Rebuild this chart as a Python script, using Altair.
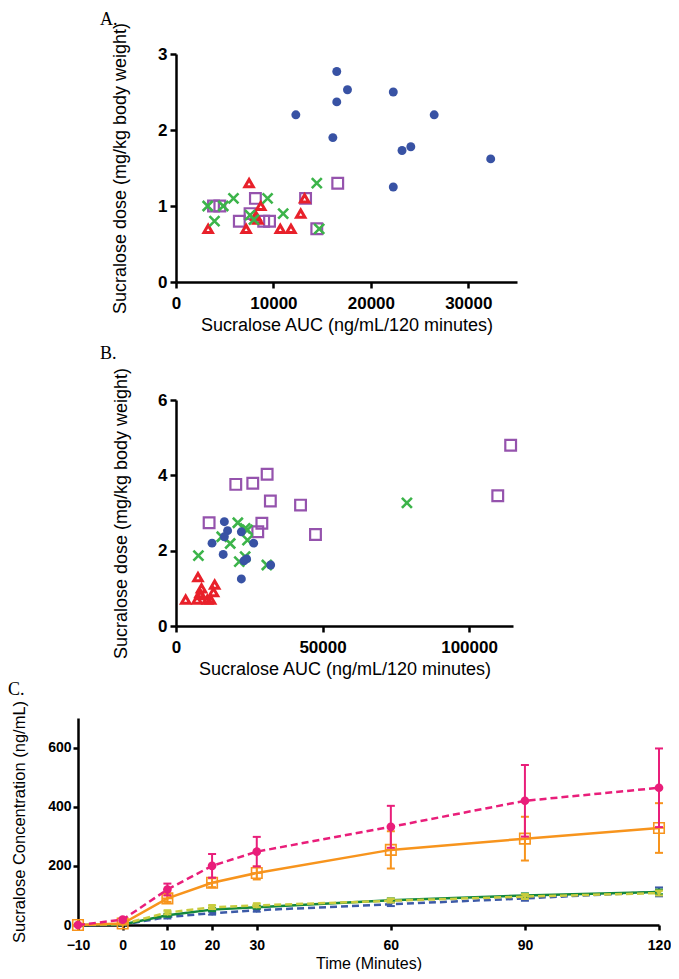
import altair as alt
import pandas as pd

# ---------------- Panel A / B data ----------------
# Blue filled circles (same in A and B)
blue_auc = [12300, 16500, 17600, 16500, 16100, 22300, 26500, 23200, 24100, 32300, 22300]
blue_dose = [2.2, 2.77, 2.53, 2.37, 1.9, 2.5, 2.2, 1.73, 1.78, 1.62, 1.25]
# Red open triangles (same in A and B)
red_auc = [3300, 7500, 7200, 8700, 8200, 10700, 11800, 12800, 13200, 8400]
red_dose = [0.7, 1.3, 0.7, 1.0, 0.87, 0.7, 0.7, 0.9, 1.1, 0.82]
# Panel A green crosses
a_green_auc = [3250, 3950, 4850, 5900, 9400, 7600, 8000, 11000, 14450, 14700]
a_green_dose = [1.0, 0.8, 1.0, 1.1, 1.1, 0.88, 0.82, 0.9, 1.3, 0.7]
# Panel A purple open squares
a_purple_auc = [3850, 4500, 8150, 6500, 7600, 9000, 9600, 13300, 14450, 16600]
a_purple_dose = [1.0, 1.0, 1.1, 0.8, 0.9, 0.8, 0.8, 1.1, 0.7, 1.3]
# Panel B green crosses
b_green_auc = [7650, 15600, 18500, 21100, 23600, 24400, 24400, 21600, 23600, 31000, 78800]
b_green_dose = [1.87, 2.37, 2.19, 2.74, 2.59, 2.55, 2.28, 1.71, 1.84, 1.62, 3.27]
# Panel B purple open squares
b_purple_auc = [11300, 20400, 26200, 31100, 32200, 42500, 47600, 29300, 27900, 114200, 109800]
b_purple_dose = [2.74, 3.76, 3.79, 4.03, 3.32, 3.21, 2.43, 2.73, 2.5, 4.8, 3.46]

# ---------------- Panel C data ----------------
times = [-10, 0, 10, 20, 30, 60, 90, 120]
pink_mean = [0, 18, 120, 200, 248, 332, 420, 464]
pink_sem = [3, 5, 20, 40, 50, 71, 121, 133]
orange_mean = [0, 5, 90, 143, 176, 254, 292, 328]
orange_sem = [2, 3, 12, 15, 22, 63, 74, 84]
green_mean = [0, 2, 33, 52, 60, 84, 100, 112]
green_sem = [1, 1, 5, 5, 5, 6, 7, 8]
yellow_mean = [0, 3, 42, 60, 66, 82, 96, 108]
yellow_sem = [1, 1, 6, 6, 6, 6, 8, 8]
bluec_mean = [0, 1, 27, 40, 50, 70, 90, 112]
bluec_sem = [1, 1, 5, 5, 5, 6, 8, 15]

FONT = "Liberation Sans"
SERIF = "Liberation Serif"

BLUE = "#3852a4"
RED = "#e8202a"
GREEN = "#3cb44a"
PURPLE = "#9553ad"
PINK = "#e91e7a"
ORANGE = "#f7941d"
CGREEN = "#13883d"
CYELLOW = "#c9cc3f"
CBLUE = "#3c5aa8"

XSHAPE = "M-1,-1L1,1M-1,1L1,-1"
SQCROSS = "M-1,-1L1,-1L1,1L-1,1Z M0,-1L0,1 M-1,0L1,0"
CAP = "M-1,0L1,0"


def frame(x1, x2, y1, y2):
    return alt.Chart(pd.DataFrame({"z": [0]})).mark_rule(opacity=0).encode(
        x=alt.value(x1), x2=alt.value(x2), y=alt.value(y1), y2=alt.value(y2))


def panel_label(txt, x, y):
    return alt.Chart(pd.DataFrame({"t": [txt]})).mark_text(
        font=SERIF, fontSize=18, align="left", baseline="alphabetic", color="black"
    ).encode(text="t:N", x=alt.value(x), y=alt.value(y))


def mk_axis(values, title, label_size, title_size, tick_size, label_pad,
            tx=None, ty=None, offset=None, fmt="d"):
    kw = dict(values=values, title=title, format=fmt, grid=False,
              tickSize=tick_size, tickWidth=2.5, tickColor="black",
              domainWidth=2.5, domainColor="black",
              labelFont=FONT, labelFontSize=label_size, labelFontWeight="bold",
              labelColor="black", labelPadding=label_pad, labelFlush=False,
              labelOverlap=False, labelBound=False,
              titleFont=FONT, titleFontSize=title_size, titleFontWeight="normal",
              titleColor="black", titleBaseline="middle")
    if tx is not None:
        kw["titleX"] = tx
    if ty is not None:
        kw["titleY"] = ty
    if offset is not None:
        kw["offset"] = offset
    return alt.Axis(**kw)


# the three panels share the left edge of panel C's plot (page x = 78);
# panels A and B start their own plot area 98 px further right.
SHIFT = 98


def scatter_panel(xmax, xticks, ymax, yticks, greens, purples, w, h, lab_y, fr, xty, ytx):
    xs = alt.Scale(domain=[0, xmax], nice=False, zero=True, range=[SHIFT, SHIFT + w])
    ys = alt.Scale(domain=[0, ymax], nice=False, zero=True)
    xa = mk_axis(xticks, "Sucralose AUC (ng/mL/120 minutes)", 17, 18, 6, 7, ty=xty)
    ya = mk_axis(yticks, "Sucralose dose (mg/kg body weight)", 17, 18, 6, 3,
                 tx=ytx, offset=-SHIFT)

    def pts(xv, yv, **mk):
        df = pd.DataFrame({"auc": xv, "dose": yv})
        return alt.Chart(df).mark_point(**mk).encode(
            x=alt.X("auc:Q", scale=xs, axis=xa),
            y=alt.Y("dose:Q", scale=ys, axis=ya))

    layers = [
        frame(*fr),
        panel_label(lab_y[0], SHIFT - 76, lab_y[1]),
        pts(purples[0], purples[1], shape="square", filled=False, color=PURPLE,
            strokeWidth=2.2, size=115, opacity=1),
        pts(red_auc, red_dose, shape="triangle-up", filled=False, color=RED,
            strokeWidth=3, size=70, opacity=1),
        pts(greens[0], greens[1], shape=XSHAPE, filled=False, color=GREEN,
            strokeWidth=2.6, size=100, opacity=1),
        pts(blue_auc, blue_dose, shape="circle", filled=True, color=BLUE,
            size=80, opacity=1),
    ]
    return alt.layer(*layers).properties(width=SHIFT + w, height=h)


chartA = scatter_panel(35000, [0, 10000, 20000, 30000], 3, [0, 1, 2, 3],
                       (a_green_auc, a_green_dose), (a_purple_auc, a_purple_dose),
                       341, 228, ("A.", -29), (20, 21, -46, 286), 43, -56)
chartB = scatter_panel(115000, [0, 50000, 100000], 6, [0, 2, 4, 6],
                       (b_green_auc, b_green_dose), (b_purple_auc, b_purple_dose),
                       337, 226, ("B.", -41), (20, 21, -60, 280), 43, -55)

# ---------------- Panel C ----------------
CW = 581
cxs = alt.Scale(domain=[-10, 120], nice=False, zero=False)
cys = alt.Scale(domain=[0, 700], nice=False, zero=True)
cxa = mk_axis(times, "Time (Minutes)", 14, 16, 5, 8, ty=38)
cya = mk_axis([0, 200, 400, 600], "Sucralose Concentration (ng/mL)", 14, 16.5, 5, 2, tx=-59)


def series(mean, sem, color, dash, marker, msize, filled, mstroke=1.5):
    df = pd.DataFrame({"t": times, "m": mean,
                       "lo": [a - b for a, b in zip(mean, sem)],
                       "hi": [a + b for a, b in zip(mean, sem)]})
    base = alt.Chart(df)
    X = alt.X("t:Q", scale=cxs, axis=cxa)
    line_kw = dict(color=color, strokeWidth=2.5)
    if dash:
        line_kw["strokeDash"] = [7, 4]
    out = [
        base.mark_rule(color=color, strokeWidth=2).encode(
            x=X, y=alt.Y("lo:Q", scale=cys, axis=cya), y2="hi:Q"),
        base.mark_point(shape=CAP, filled=False, color=color, strokeWidth=2, size=64, opacity=1).encode(
            x=X, y=alt.Y("hi:Q", scale=cys, axis=cya)),
        base.mark_point(shape=CAP, filled=False, color=color, strokeWidth=2, size=64, opacity=1).encode(
            x=X, y=alt.Y("lo:Q", scale=cys, axis=cya)),
        base.mark_line(**line_kw).encode(x=X, y=alt.Y("m:Q", scale=cys, axis=cya)),
    ]
    if marker is not None:
        mk = dict(shape=marker, filled=filled, color=color, size=msize, opacity=1)
        if not filled:
            mk["strokeWidth"] = mstroke
        out.append(base.mark_point(**mk).encode(x=X, y=alt.Y("m:Q", scale=cys, axis=cya)))
    return out


c_layers = [frame(-70, -69, -38, 240), panel_label("C.", -70, -23)]
c_layers += series(bluec_mean, bluec_sem, CBLUE, True, "triangle-down", 40, True)
c_layers += series(green_mean, green_sem, CGREEN, False, None, 0, True)
c_layers += series(yellow_mean, yellow_sem, CYELLOW, True, "triangle-down", 60, True)
c_layers += series(orange_mean, orange_sem, ORANGE, False, SQCROSS, 110, False, 1.6)
c_layers += series(pink_mean, pink_sem, PINK, True, "circle", 75, True)

chartC = alt.layer(*c_layers).properties(width=CW, height=207)

chart = alt.concat(chartA, chartB, chartC, columns=1, spacing=0, align="none").properties(
    padding=0, background="white"
).configure_view(strokeWidth=0)

chart.save("out.html", embed_options={"renderer": "svg", "actions": False})
